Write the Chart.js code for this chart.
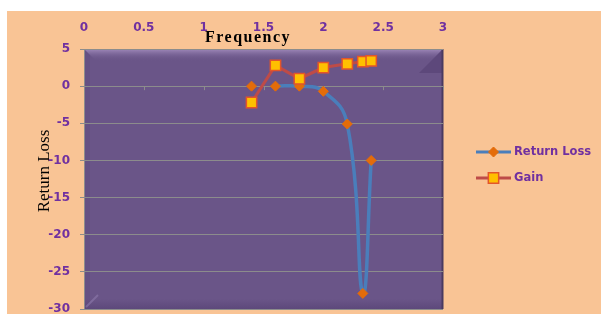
<!DOCTYPE html>
<html><head><meta charset="utf-8">
<script src="https://cdn.jsdelivr.net/npm/chart.js@4/dist/chart.umd.min.js"></script>
<style>html,body{margin:0;padding:0;background:#fff;}#wrap{width:601px;height:314px;}</style>
</head><body><div id="wrap"><canvas id="c" width="601" height="314"></canvas></div>
<script>
const frequency = [1.4, 1.6, 1.8, 2.0, 2.2, 2.33, 2.4];
const returnLoss = [0, 0, 0, -0.7, -5.1, -27.9, -10];
const gain = [-2.2, 2.8, 1.0, 2.5, 3.0, 3.3, 3.4];
const xTicks = [0, 0.5, 1, 1.5, 2, 2.5, 3];
const yTicks = [5, 0, -5, -10, -15, -20, -25, -30];
const seriesNames = ['Return Loss', 'Gain'];
const axisTitles = ['Frequency', 'Return Loss'];

const BLUE = '#4A7EBB', ORANGE = '#E46C0A', RED = '#BE4B48', GOLD = '#FFC000', SQB = '#E3552A';
const PURPLE_TXT = '#7030A0', GRID = '#8C8C8C';

function drawMarker(ctx, style, x, y, r, fill, stroke, lw) {
  ctx.beginPath();
  if (style === 'rect') {
    const s = Math.SQRT1_2 * r;
    ctx.rect(x - s, y - s, 2 * s, 2 * s);
  } else {
    ctx.moveTo(x, y - r); ctx.lineTo(x + r, y); ctx.lineTo(x, y + r); ctx.lineTo(x - r, y); ctx.closePath();
  }
  ctx.fillStyle = fill; ctx.fill();
  ctx.lineWidth = lw; ctx.strokeStyle = stroke; ctx.stroke();
}

const decor = {
  id: 'decor',
  beforeDraw(chart) {
    const {ctx, chartArea: a} = chart;
    ctx.save();
    ctx.fillStyle = '#F9C495';
    ctx.fillRect(7, 11, chart.width - 7, chart.height - 11);
    ctx.fillStyle = '#6A5588';
    ctx.fillRect(a.left, a.top, a.width, a.height);
    const b = 12;
    const g = ctx.createLinearGradient(0, a.top, 0, a.top + b);
    g.addColorStop(0, '#A08ABB'); g.addColorStop(1, 'rgba(106,86,136,0)');
    ctx.fillStyle = g;
    ctx.beginPath(); ctx.moveTo(a.left, a.top); ctx.lineTo(a.right, a.top);
    ctx.lineTo(a.right - b, a.top + b); ctx.lineTo(a.left + b, a.top + b); ctx.closePath(); ctx.fill();
    ctx.fillStyle = 'rgba(80,60,110,0.15)';
    ctx.beginPath(); ctx.moveTo(a.left, a.top); ctx.lineTo(a.left + 6, a.top + 6);
    ctx.lineTo(a.left + 6, a.bottom - 6); ctx.lineTo(a.left, a.bottom); ctx.closePath(); ctx.fill();
    ctx.fillStyle = 'rgba(70,50,100,0.35)';
    ctx.beginPath(); ctx.moveTo(a.right, a.top); ctx.lineTo(a.right - 24, a.top + 24);
    ctx.lineTo(a.right, a.top + 24); ctx.closePath(); ctx.fill();
    const g2 = ctx.createLinearGradient(0, a.bottom - 10, 0, a.bottom);
    g2.addColorStop(0, 'rgba(80,60,110,0)'); g2.addColorStop(1, 'rgba(80,60,110,0.5)');
    ctx.fillStyle = g2;
    ctx.fillRect(a.left, a.bottom - 10, a.width, 10);
    ctx.strokeStyle = 'rgba(150,130,180,0.5)'; ctx.lineWidth = 2;
    ctx.beginPath(); ctx.moveTo(a.left + 2, a.bottom - 2); ctx.lineTo(a.left + 14, a.bottom - 14); ctx.stroke();
    ctx.fillStyle = '#4A3A60';
    ctx.fillRect(a.right - 1.5, a.top, 2, a.height);
    ctx.restore();
  },
  beforeDatasetsDraw(chart) {
    const {ctx} = chart;
    const xs = chart.scales.x, ys = chart.scales.y;
    const y0 = ys.getPixelForValue(0);
    ctx.save();
    ctx.strokeStyle = GRID; ctx.lineWidth = 1;
    xTicks.forEach(v => {
      const x = Math.round(xs.getPixelForValue(v)) + 0.5;
      ctx.beginPath(); ctx.moveTo(x, y0); ctx.lineTo(x, y0 + 4); ctx.stroke();
    });
    ctx.restore();
  },
  afterDraw(chart) {
    const {ctx, chartArea: a} = chart;
    ctx.save();
    ctx.fillStyle = '#000';
    ctx.font = 'bold 16px "Liberation Serif"';
    ctx.letterSpacing = '1.5px';
    ctx.textAlign = 'center'; ctx.textBaseline = 'alphabetic';
    ctx.fillText(axisTitles[0], 248, 42);
    ctx.letterSpacing = '0px';
    ctx.font = '17px "Liberation Serif"';
    ctx.translate(49, 171); ctx.rotate(-Math.PI / 2);
    ctx.fillText(axisTitles[1], 0, 0);
    ctx.restore();
    ctx.save();
    const lx = a.right + 33;
    const items = [
      {label: seriesNames[0], y: 152, color: BLUE, style: 'rectRot', r: 5, fill: ORANGE, stroke: ORANGE, lw: 1},
      {label: seriesNames[1], y: 178, color: RED, style: 'rect', r: 7.3, fill: GOLD, stroke: SQB, lw: 1.5}
    ];
    items.forEach(it => {
      ctx.strokeStyle = it.color; ctx.lineWidth = 3;
      ctx.beginPath(); ctx.moveTo(lx, it.y); ctx.lineTo(lx + 35, it.y); ctx.stroke();
      drawMarker(ctx, it.style, lx + 17.5, it.y, it.r, it.fill, it.stroke, it.lw);
      ctx.fillStyle = PURPLE_TXT;
      ctx.font = 'bold 11.5px "DejaVu Sans"';
      ctx.textAlign = 'left'; ctx.textBaseline = 'middle';
      ctx.fillText(it.label, lx + 38, it.y + 0.5);
    });
    ctx.restore();
  }
};

const tickFont = { family: 'DejaVu Sans', weight: 'bold', size: 12 };

new Chart(document.getElementById('c'), {
  type: 'line',
  data: {
    datasets: [
      {
        label: seriesNames[1],
        data: frequency.map((f, i) => ({x: f, y: gain[i]})),
        borderColor: RED, borderWidth: 3, tension: 0,
        pointStyle: 'rect', pointRadius: 7.3, pointBackgroundColor: GOLD,
        pointBorderColor: SQB, pointBorderWidth: 1.5, order: 0
      },
      {
        label: seriesNames[0],
        data: frequency.map((f, i) => ({x: f, y: returnLoss[i]})),
        borderColor: BLUE, borderWidth: 3.5, tension: 0.45, cubicInterpolationMode: 'default',
        pointStyle: 'rectRot', pointRadius: 5, pointBackgroundColor: ORANGE,
        pointBorderColor: ORANGE, pointBorderWidth: 1, order: 1,
        segment: { borderColor: c => c.p0DataIndex === 0 ? 'rgba(0,0,0,0)' : undefined }
      }
    ]
  },
  options: {
    responsive: false, animation: false, events: [],
    layout: { autoPadding: false, padding: { left: 7, top: 11, right: 158, bottom: 5 } },
    plugins: { legend: { display: false }, tooltip: { enabled: false }, title: { display: false } },
    scales: {
      x: {
        type: 'linear', position: 'top', min: 0, max: 3,
        afterBuildTicks: s => { s.ticks = xTicks.map(v => ({value: v})); },
        afterFit: s => { s.height = 38; s.paddingLeft = 0; s.paddingRight = 0; },
        grid: { display: false, drawTicks: false },
        border: { display: false },
        ticks: { color: PURPLE_TXT, font: tickFont, padding: 14, maxRotation: 0, callback: v => String(v) }
      },
      y: {
        type: 'linear', min: -30, max: 5,
        afterBuildTicks: s => { s.ticks = yTicks.map(v => ({value: v})); },
        afterFit: s => { s.width = 77; s.paddingTop = 0; s.paddingBottom = 0; },
        grid: { color: GRID, lineWidth: 1, drawTicks: true, tickLength: 4 },
        border: { display: true, color: GRID, width: 1 },
        ticks: { color: PURPLE_TXT, font: tickFont, padding: 10, callback: v => String(v) }
      }
    }
  },
  plugins: [decor]
});
</script>
</body></html>
